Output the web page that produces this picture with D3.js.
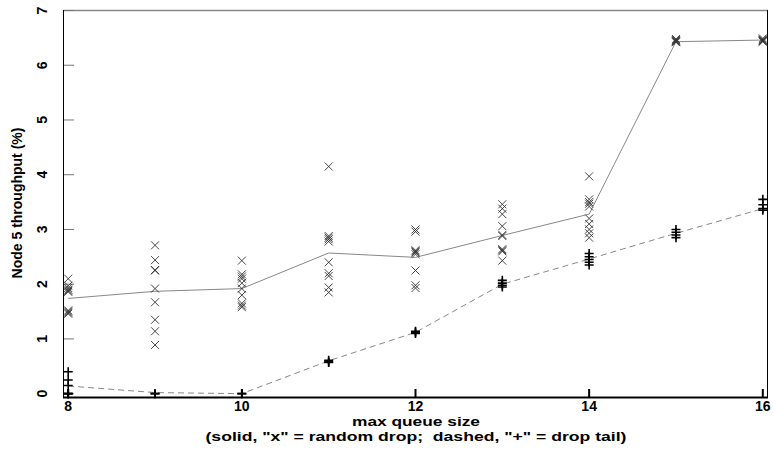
<!DOCTYPE html>
<html lang="en">
<head>
<meta charset="UTF-8">
<title>Node 5 throughput</title>
<style>
  body { margin: 0; background: #fff; }
  text { font-family: "Liberation Sans", Arial, sans-serif; font-weight: bold; fill: #000; }
</style>
</head>
<body>
<svg id="chart" width="773" height="450"></svg>
<script src="https://d3js.org/d3.v7.min.js"></script>
<script>
// max queue sizes
var queueSizes = [8, 9, 10, 11, 12, 13, 14, 15, 16];

// random drop runs ("x") per queue size
var randomDrop = [
  [2.1, 1.97, 1.93, 1.9, 1.88, 1.86, 1.52, 1.5, 1.48, 1.46],
  [2.71, 2.44, 2.26, 2.25, 1.92, 1.67, 1.35, 1.14, 0.89],
  [2.43, 2.18, 2.14, 2.1, 2.02, 1.92, 1.8, 1.65, 1.61, 1.58],
  [4.15, 2.88, 2.85, 2.82, 2.78, 2.4, 2.2, 2.15, 1.94, 1.85],
  [3.0, 2.96, 2.62, 2.6, 2.58, 2.55, 2.25, 1.98, 1.93],
  [3.46, 3.38, 3.28, 3.06, 2.9, 2.88, 2.64, 2.62, 2.6, 2.43],
  [3.97, 3.55, 3.5, 3.47, 3.42, 3.2, 3.1, 3.0, 2.93, 2.85],
  [6.48, 6.46, 6.45, 6.44, 6.43, 6.42],
  [6.49, 6.47, 6.46, 6.45, 6.44, 6.43]
];
var randomDropMean = [1.74, 1.87, 1.92, 2.57, 2.49, 2.89, 3.28, 6.43, 6.46];

// drop tail runs ("+") per queue size
var dropTail = [
  [0.4, 0.25, 0.15, 0.0, 0.0, 0.0],
  [0.0, 0.0],
  [0.0, 0.0],
  [0.61, 0.58, 0.57],
  [1.14, 1.12, 1.1],
  [2.07, 2.02, 1.98, 1.95],
  [2.56, 2.5, 2.45, 2.4, 2.35],
  [3.0, 2.95, 2.9, 2.85],
  [3.55, 3.45, 3.38, 3.35]
];
var dropTailMean = [0.14, 0.02, 0.0, 0.6, 1.12, 2.0, 2.46, 2.93, 3.38];

var xTicks = [8, 10, 12, 14, 16];
var yTicks = [0, 1, 2, 3, 4, 5, 6, 7];

var svg = d3.select("#chart");

var x = d3.scaleLinear().domain([7.94, 16.06]).range([63, 768]);
var y = d3.scaleLinear().domain([-0.07, 7]).range([397.5, 10.5]);

// frame
svg.append("line").attr("x1", 63).attr("x2", 768).attr("y1", 10.5).attr("y2", 10.5)
  .attr("stroke", "#888").attr("stroke-width", 1.5);
svg.append("line").attr("x1", 767.5).attr("x2", 767.5).attr("y1", 10).attr("y2", 398)
  .attr("stroke", "#000").attr("stroke-width", 1);

// y ticks (inward, gray) and rotated labels
yTicks.forEach(function (t) {
  svg.append("line").attr("x1", 63).attr("x2", 74)
    .attr("y1", y(t)).attr("y2", y(t))
    .attr("stroke", "#777").attr("stroke-width", 1);
  svg.append("text")
    .attr("transform", "translate(47," + y(t) + ") rotate(-90)")
    .attr("text-anchor", "middle")
    .style("font-size", "14px")
    .text(t);
});

// x ticks (inward, black) and labels
xTicks.forEach(function (t) {
  svg.append("line").attr("x1", x(t)).attr("x2", x(t))
    .attr("y1", 397).attr("y2", 389)
    .attr("stroke", "#000").attr("stroke-width", 2);
  svg.append("text")
    .attr("x", x(t)).attr("y", 410.5)
    .attr("text-anchor", "middle")
    .style("font-size", "14px")
    .text(t);
});

// axes lines
svg.append("line").attr("x1", 63.5).attr("x2", 63.5).attr("y1", 10).attr("y2", 398)
  .attr("stroke", "#000").attr("stroke-width", 1);
svg.append("line").attr("x1", 63).attr("x2", 768).attr("y1", 397.5).attr("y2", 397.5)
  .attr("stroke", "#000").attr("stroke-width", 2);

// mean lines
var line = d3.line()
  .x(function (d, i) { return x(queueSizes[i]); })
  .y(function (d) { return y(d); });

svg.append("path").datum(randomDropMean)
  .attr("d", line).attr("fill", "none")
  .attr("stroke", "#888").attr("stroke-width", 1);

svg.append("path").datum(dropTailMean)
  .attr("d", line).attr("fill", "none")
  .attr("stroke", "#888").attr("stroke-width", 1)
  .attr("stroke-dasharray", "6,4");

// flatten runs into points
var xPts = [], pPts = [];
queueSizes.forEach(function (q, i) {
  randomDrop[i].forEach(function (v) { xPts.push({ q: q, v: v }); });
  dropTail[i].forEach(function (v) { pPts.push({ q: q, v: v }); });
});

// "x" markers
svg.append("g").selectAll("path")
  .data(xPts).enter().append("path")
  .attr("d", function (d) {
    var cx = x(d.q), cy = y(d.v), s = 4;
    return "M" + (cx - s) + "," + (cy - s) + "L" + (cx + s) + "," + (cy + s) +
      "M" + (cx - s) + "," + (cy + s) + "L" + (cx + s) + "," + (cy - s);
  })
  .attr("stroke", "#333").attr("stroke-width", 0.9).attr("fill", "none");

// "+" markers
svg.append("g").selectAll("path")
  .data(pPts).enter().append("path")
  .attr("d", function (d) {
    var cx = x(d.q), cy = y(d.v), s = 4.5;
    return "M" + (cx - s) + "," + cy + "L" + (cx + s) + "," + cy +
      "M" + cx + "," + (cy - s) + "L" + cx + "," + (cy + s);
  })
  .attr("stroke", "#000").attr("stroke-width", 1.6).attr("fill", "none");

// axis titles
svg.append("text")
  .attr("transform", "translate(22,203) rotate(-90)")
  .attr("text-anchor", "middle")
  .style("font-size", "14px")
  .text("Node 5 throughput (%)");

svg.append("text")
  .attr("x", 416).attr("y", 426)
  .attr("text-anchor", "middle")
  .attr("textLength", 128).attr("lengthAdjust", "spacingAndGlyphs")
  .style("font-size", "13.5px")
  .text("max queue size");

svg.append("text")
  .attr("x", 416).attr("y", 441.3)
  .attr("text-anchor", "middle")
  .attr("textLength", 421).attr("lengthAdjust", "spacingAndGlyphs")
  .style("font-size", "13.5px")
  .style("white-space", "pre")
  .text('(solid, "x" = random drop;  dashed, "+" = drop tail)');
</script>
</body>
</html>
